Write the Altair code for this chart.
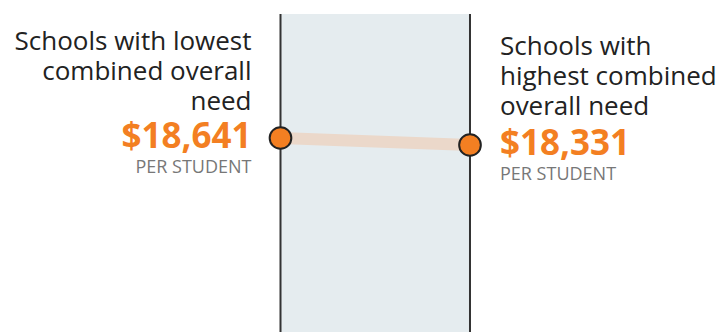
import altair as alt
import pandas as pd

groups = ["Schools with lowest combined overall need", "Schools with highest combined overall need"]
positions = [0, 1]
values = [18641, 18331]
value_labels = ["$18,641", "$18,331"]
left_lines = ["Schools with lowest", "combined overall", "need"]
right_lines = ["Schools with", "highest combined", "overall need"]
unit_label = "PER STUDENT"

df = pd.DataFrame({"group": groups, "pos": positions, "value": values, "label": value_labels,
                   "unit": [unit_label, unit_label]})
df_left = df.iloc[[0]].copy()
df_left["head"] = [left_lines]
df_right = df.iloc[[1]].copy()
df_right["head"] = [right_lines]

FONT = "Open Sans"
ORANGE = "#F37F22"

xs = alt.Scale(domain=[-1.4802, 2.3404], nice=False, zero=False)
ys = alt.Scale(domain=[10050, 24132], nice=False, zero=False)
X = alt.X("pos:Q", scale=xs, axis=None)
Y = alt.Y("value:Q", scale=ys, axis=None)

band = alt.Chart(pd.DataFrame({"a": [0], "b": [1]})).mark_rect(color="#E5ECEF").encode(
    x=alt.X("a:Q", scale=xs, axis=None), x2="b:Q", y=alt.value(0), y2=alt.value(318))

rules = alt.Chart(df).mark_rule(color="#333333", strokeWidth=2).encode(
    x=X, y=alt.value(0), y2=alt.value(318))

line = alt.Chart(df).mark_line(color="#EBD8CA", strokeWidth=12).encode(x=X, y=Y)

pts = alt.Chart(df).mark_point(filled=True, fill=ORANGE, stroke="#222222", strokeWidth=2,
                               size=470, opacity=1, shape="circle").encode(x=X, y=Y)

def labels(d, align, dx, dyhead):
    base = alt.Chart(d).encode(x=X, y=Y)
    head = base.mark_text(align=align, baseline="alphabetic", dx=dx, dy=dyhead, font=FONT,
                          fontSize=26, lineHeight=30, color="#222222").encode(text="head")
    val = base.mark_text(align=align, baseline="alphabetic", dx=dx, dy=10, font=FONT,
                         fontSize=35, fontWeight="bold", color=ORANGE).encode(text="label:N")
    unit = base.mark_text(align=align, baseline="alphabetic", dx=dx, dy=35, font=FONT,
                          fontSize=18, color="#777777").encode(text="unit:N")
    return head + val + unit

chart = alt.layer(band, rules, line, pts,
                  labels(df_left, "right", -29, -88),
                  labels(df_right, "left", 30, -90)).properties(
    width=724, height=318,
    autosize=alt.AutoSizeParams(type="none"),
    padding={"top": 14, "left": 0, "right": 0, "bottom": 0},
).configure_view(stroke=None)

chart.save("out.html", embed_options={"renderer": "svg", "actions": False})
